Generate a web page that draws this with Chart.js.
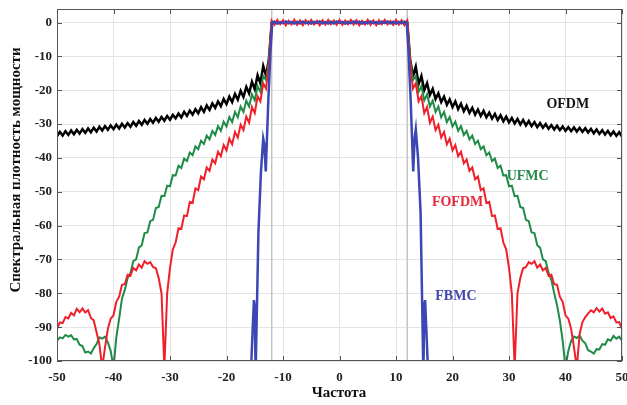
<!DOCTYPE html>
<html>
<head>
    <meta charset="UTF-8">
    <title>PSD</title>
    <script src="https://cdn.jsdelivr.net/npm/chart.js@4.4.0/dist/chart.umd.min.js"></script>
    <style>
        body { margin: 0; background: #fff; }
    </style>
</head>
<body>
    <canvas id="psd" width="627" height="405"></canvas>
    <script>

        // frequency grid (shared by OFDM / UFMC / FOFDM)
        var freq = [
            -50,-49.5,-49,-48.5,-48,-47.5,-47,-46.5,-46,-45.5,-45,-44.5,-44,-43.5,-43,-42.5,-42,-41.5,-41,-40.5,
            -40,-39.5,-39,-38.5,-38,-37.5,-37,-36.5,-36,-35.5,-35,-34.5,-34,-33.5,-33,-32.5,-32,-31.5,-31,-30.5,
            -30,-29.5,-29,-28.5,-28,-27.5,-27,-26.5,-26,-25.5,-25,-24.5,-24,-23.5,-23,-22.5,-22,-21.5,-21,-20.5,
            -20,-19.5,-19,-18.5,-18,-17.5,-17,-16.5,-16,-15.5,-15,-14.5,-14,-13.5,-13,-12.5,
            -12,-11.5,-11,-10.5,-10,-9.5,-9,-8.5,-8,-7.5,-7,-6.5,-6,-5.5,-5,-4.5,-4,-3.5,-3,-2.5,-2,-1.5,-1,-0.5,
            0,0.5,1,1.5,2,2.5,3,3.5,4,4.5,5,5.5,6,6.5,7,7.5,8,8.5,9,9.5,10,10.5,11,11.5,12,
            12.5,13,13.5,14,14.5,15,15.5,16,16.5,17,17.5,18,18.5,19,19.5,20,20.5,21,21.5,22,22.5,
            23,23.5,24,24.5,25,25.5,26,26.5,27,27.5,28,28.5,29,29.5,30,30.5,31,31.5,32,32.5,
            33,33.5,34,34.5,35,35.5,36,36.5,37,37.5,38,38.5,39,39.5,40,40.5,41,41.5,42,42.5,
            43,43.5,44,44.5,45,45.5,46,46.5,47,47.5,48,48.5,49,49.5,50
        ];

        var ofdm = [
            -33.6,-32.3,-33.4,-32.1,-33.2,-31.9,-33.0,-31.7,-32.8,-31.5,
            -32.6,-31.3,-32.4,-31.1,-32.2,-30.8,-31.9,-30.6,-31.7,-30.4,
            -31.5,-30.2,-31.3,-29.9,-31.0,-29.7,-30.8,-29.4,-30.5,-29.1,
            -30.2,-28.8,-29.9,-28.5,-29.6,-28.2,-29.3,-27.9,-29.0,-27.6,
            -28.7,-27.3,-28.3,-26.9,-28.0,-26.4,-27.6,-26.0,-27.2,-25.6,
            -26.8,-25.0,-26.4,-24.5,-25.8,-23.9,-25.2,-23.3,-24.7,-22.6,
            -24.1,-21.9,-23.5,-21.1,-22.8,-20.2,-22.0,-19.0,-20.9,-17.5,
            -19.7,-15.6,-18.0,-12.8,-15.7,-10.8,
            -0.1,0.2,-0.2,0.1,-0.1,0.2,-0.2,0.1,-0.1,0.2,
            -0.2,0.1,-0.1,0.2,-0.2,0.1,-0.1,0.2,-0.2,0.1,
            -0.1,0.2,-0.2,0.1,0.0,0.1,-0.2,0.2,-0.1,0.1,
            -0.2,0.2,-0.1,0.1,-0.2,0.2,-0.1,0.1,-0.2,0.2,
            -0.1,0.1,-0.2,0.2,-0.1,0.1,-0.2,0.2,-0.1,
            -10.9,-15.8,-13.0,-18.2,-15.8,-20.0,-17.9,-21.4,-19.6,-22.6,
            -20.9,-23.5,-21.9,-24.3,-22.7,-25.0,-23.3,-25.6,-24.0,-26.2,
            -24.6,-26.7,-25.2,-27.2,-25.7,-27.6,-26.1,-28.0,-26.6,-28.4,
            -27.0,-28.8,-27.4,-29.2,-27.8,-29.5,-28.2,-29.8,-28.5,-30.1,
            -28.8,-30.4,-29.1,-30.6,-29.4,-30.9,-29.7,-31.1,-30.0,-31.4,
            -30.3,-31.6,-30.5,-31.8,-30.7,-32.0,-30.9,-32.1,-31.0,-32.2,
            -31.1,-32.3,-31.2,-32.5,-31.4,-32.7,-31.6,-32.9,-31.8,-33.1,
            -32.0,-33.3,-32.2,-33.5,-32.4,-33.7
        ];

        var ufmc = [
            -94.0,-93.0,-93.3,-92.3,-92.8,-92.4,-93.6,-93.5,-95.2,-95.6,
            -97.5,-97.2,-97.8,-96.2,-95.0,-93.0,-93.4,-92.8,-94.5,-97.0,
            -102,-93.0,-87.5,-81.5,-79.0,-75.5,-74.0,-70.5,-70.0,-66.5,
            -65.8,-62.2,-62.0,-58.7,-58.3,-54.8,-54.5,-51.2,-51.3,-48.2,
            -48.4,-45.1,-45.2,-42.3,-43.0,-40.2,-40.9,-38.4,-39.2,-36.6,
            -37.4,-34.9,-35.9,-33.4,-34.5,-32.0,-33.2,-30.6,-32.0,-29.3,
            -30.7,-27.9,-29.4,-26.4,-28.0,-24.8,-26.4,-23.1,-24.8,-21.2,
            -23.0,-18.8,-20.5,-15.8,-17.0,-11.2,
            0.2,-0.2,0.1,-0.3,0.2,-0.1,0.3,-0.2,0.1,-0.2,
            0.2,-0.1,0.3,-0.2,0.1,-0.3,0.2,-0.1,0.2,-0.2,
            0.1,-0.3,0.2,-0.1,0.2,-0.2,0.1,-0.3,0.2,-0.1,
            0.3,-0.2,0.1,-0.2,0.2,-0.1,0.3,-0.2,0.1,-0.3,
            0.2,-0.1,0.2,-0.2,0.1,-0.3,0.2,-0.1,0.2,
            -11.2,-17.0,-15.8,-20.5,-18.8,-23.0,-21.2,-24.8,-23.1,-26.4,
            -24.8,-28.0,-26.4,-29.4,-27.9,-30.7,-29.3,-32.0,-30.6,-33.2,
            -32.0,-34.5,-33.4,-35.9,-34.9,-37.4,-36.6,-39.2,-38.4,-40.9,
            -40.2,-43.0,-42.3,-45.2,-45.1,-48.4,-48.2,-51.3,-51.2,-54.5,
            -54.8,-58.3,-58.7,-62.0,-62.2,-65.8,-66.5,-70.0,-70.5,-74.0,
            -76.0,-80.0,-83.5,-88.0,-94.0,-102,-97.0,-94.0,-92.8,-93.2,
            -92.5,-94.0,-94.8,-96.8,-97.2,-97.8,-96.5,-96.6,-95.0,-95.2,
            -93.6,-94.0,-92.6,-93.4,-92.8,-94.0
        ];

        var fofdm = [
            -90.5,-88.6,-88.8,-87.0,-87.4,-85.8,-86.5,-84.6,-85.6,-84.5,
            -85.7,-85.0,-87.3,-88.0,-91.5,-95.0,-102,-96.0,-90.5,-87.5,
            -86.5,-82.5,-81.0,-77.5,-77.3,-74.5,-74.8,-72.5,-73.2,-71.5,
            -72.4,-70.5,-71.3,-70.8,-72.2,-72.6,-75.5,-80.0,-102,-80.0,
            -72.5,-67.0,-65.0,-60.8,-61.0,-57.0,-57.2,-53.0,-53.3,-49.0,
            -49.5,-45.5,-46.3,-42.8,-43.8,-40.5,-41.6,-38.2,-39.5,-36.2,
            -37.8,-34.3,-36.0,-32.3,-34.0,-30.2,-31.8,-27.8,-29.6,-25.0,
            -26.8,-21.8,-23.3,-18.0,-19.5,-12.0,
            0.6,-0.7,0.8,-0.5,0.7,-0.8,0.5,-0.6,0.8,-0.7,
            0.6,-0.8,0.7,-0.5,0.8,-0.6,0.5,-0.8,0.7,-0.6,
            0.8,-0.5,0.6,-0.7,0.8,-0.7,0.6,-0.5,0.8,-0.6,
            0.7,-0.8,0.5,-0.6,0.8,-0.7,0.6,-0.8,0.7,-0.5,
            0.8,-0.6,0.5,-0.7,0.8,-0.6,0.7,-0.8,0.6,
            -12.0,-19.5,-18.0,-23.3,-21.8,-26.8,-25.0,-29.6,-27.8,-31.8,
            -30.2,-34.0,-32.3,-36.0,-34.3,-37.8,-36.2,-39.5,-38.2,-41.6,
            -40.5,-43.8,-42.8,-46.3,-45.5,-49.5,-49.0,-53.3,-53.0,-57.2,
            -57.0,-61.0,-60.8,-65.0,-67.0,-72.5,-80.0,-102,-80.0,-75.5,
            -72.6,-72.2,-70.8,-71.3,-70.5,-72.4,-71.5,-73.2,-72.5,-74.8,
            -74.5,-77.3,-77.5,-81.0,-82.5,-86.5,-87.5,-90.5,-96.0,-102,
            -92.0,-88.5,-87.0,-86.0,-85.0,-85.6,-84.4,-85.4,-84.5,-86.0,
            -85.6,-87.3,-86.8,-88.6,-88.5,-90.5
        ];

        // FBMC has its own (finer) frequency points near the band edges
        var fbmcFreq = [
            -15.7,-15.15,-15.0,-14.85,-14.35,-13.9,-13.5,-13.3,-13.05,-12.6,-12.2,-11.9,
            -11.5,-11,-10.5,-10,-9.5,-9,-8.5,-8,-7.5,-7,-6.5,-6,-5.5,-5,-4.5,-4,-3.5,-3,-2.5,-2,-1.5,-1,-0.5,
            0,0.5,1,1.5,2,2.5,3,3.5,4,4.5,5,5.5,6,6.5,7,7.5,8,8.5,9,9.5,10,10.5,11,11.5,
            11.9,12.2,12.6,13.05,13.3,13.5,13.9,14.35,14.85,15.0,15.15,15.7
        ];
        var fbmc = [
            -104,-82,-84,-104,-62,-44,-34.3,-36,-44,-23,-8,0,
            0.2,-0.3,0.1,-0.2,0.3,-0.1,0.2,-0.3,0.1,-0.2,
            0.3,-0.2,0.1,-0.3,0.2,-0.1,0.3,-0.2,0.1,-0.3,
            0.2,-0.2,0.3,-0.1,0.2,-0.3,0.1,-0.2,0.3,-0.1,
            0.2,-0.3,0.1,-0.2,0.3,-0.2,0.1,-0.3,0.2,-0.1,
            0.3,-0.2,0.1,-0.3,0.2,-0.1,0.2,
            0,-8,-23,-44,-34,-31.5,-40,-56,-104,-84,-82,-104
        ];

        var bandEdges = [-12, 12];
        var xTicks = [-50, -40, -30, -20, -10, 0, 10, 20, 30, 40, 50];
        var yTicks = [-100, -90, -80, -70, -60, -50, -40, -30, -20, -10, 0];

        function pts(xs, ys) {
            var out = [];
            for (var i = 0; i < xs.length; i++) out.push({ x: xs[i], y: ys[i] });
            return out;
        }

        var serif = "'Liberation Serif', 'Times New Roman', serif";
        var axisCol = '#555';

        var frame = {
            id: 'frame',
            afterDraw: function (chart) {
                var ctx = chart.ctx;
                var a = chart.chartArea;
                var xs = chart.scales.x, ys = chart.scales.y;
                ctx.save();
                ctx.strokeStyle = axisCol;
                ctx.lineWidth = 1;
                ctx.strokeRect(a.left + 0.5, a.top + 0.5, a.right - a.left - 1, a.bottom - a.top - 1);
                ctx.beginPath();
                xTicks.forEach(function (v) {
                    var p = Math.round(xs.getPixelForValue(v)) + 0.5;
                    ctx.moveTo(p, a.bottom); ctx.lineTo(p, a.bottom - 5);
                    ctx.moveTo(p, a.top); ctx.lineTo(p, a.top + 5);
                });
                yTicks.forEach(function (v) {
                    var p = Math.round(ys.getPixelForValue(v)) + 0.5;
                    ctx.moveTo(a.left, p); ctx.lineTo(a.left + 5, p);
                    ctx.moveTo(a.right, p); ctx.lineTo(a.right - 5, p);
                });
                ctx.stroke();

                // axis titles
                ctx.fillStyle = '#111';
                ctx.font = 'bold 15px ' + serif;
                ctx.textAlign = 'center';
                ctx.textBaseline = 'middle';
                ctx.fillText('Частота', 339, 393);
                ctx.save();
                ctx.translate(16, 170);
                ctx.rotate(-Math.PI / 2);
                ctx.fillText('Спектральная плотность мощности', 0, 0);
                ctx.restore();

                // curve names
                ctx.font = 'bold 14px ' + serif;
                var names = [
                    ['OFDM', 40.4, -24.3, '#111111'],
                    ['UFMC', 33.3, -45.4, '#24884a'],
                    ['FOFDM', 20.9, -53.2, '#e8283a'],
                    ['FBMC', 20.6, -80.8, '#4048a8']
                ];
                names.forEach(function (n) {
                    ctx.fillStyle = n[3];
                    ctx.fillText(n[0], xs.getPixelForValue(n[1]), ys.getPixelForValue(n[2]));
                });
                ctx.restore();
            }
        };

        var edgeSets = bandEdges.map(function (e) {
            return {
                data: [{ x: e, y: 4 }, { x: e, y: -100 }],
                borderColor: '#c4c4c4', borderWidth: 1, order: 10
            };
        });

        var config = {
            type: 'scatter',
            data: {
                datasets: [
                    { label: 'OFDM', data: pts(freq, ofdm), borderColor: '#000000', borderWidth: 2.5, order: 4 },
                    { label: 'UFMC', data: pts(freq, ufmc), borderColor: '#1e8c46', borderWidth: 2, order: 3 },
                    { label: 'FOFDM', data: pts(freq, fofdm), borderColor: '#f0202a', borderWidth: 2, order: 2 },
                    { label: 'FBMC', data: pts(fbmcFreq, fbmc), borderColor: '#3c46b4', borderWidth: 2.5, order: 1 }
                ].concat(edgeSets)
            },
            options: {
                responsive: false,
                animation: false,
                showLine: true,
                elements: { point: { radius: 0 }, line: { tension: 0 } },
                layout: { padding: { top: 9, right: 5, left: 0, bottom: 0 } },
                plugins: { legend: { display: false }, tooltip: { enabled: false } },
                scales: {
                    x: {
                        type: 'linear', min: -50, max: 50,
                        afterBuildTicks: function (s) { s.ticks = xTicks.map(function (v) { return { value: v }; }); },
                        afterFit: function (s) { s.height = 44; s.paddingLeft = 0; s.paddingRight = 0; },
                        grid: { color: '#e4e4e4', drawTicks: false },
                        border: { display: false },
                        ticks: { color: '#222', padding: 9, maxRotation: 0, font: { family: serif, size: 13, weight: 'bold' } }
                    },
                    y: {
                        type: 'linear', min: -100, max: 4,
                        afterBuildTicks: function (s) { s.ticks = yTicks.map(function (v) { return { value: v }; }); },
                        afterFit: function (s) { s.width = 57; s.paddingTop = 0; s.paddingBottom = 0; },
                        grid: { color: '#e4e4e4', drawTicks: false },
                        border: { display: false },
                        ticks: { color: '#222', padding: 5, font: { family: serif, size: 13, weight: 'bold' } }
                    }
                }
            },
            plugins: [frame]
        };

        new Chart(document.getElementById('psd'), config);
    </script>
</body>
</html>
